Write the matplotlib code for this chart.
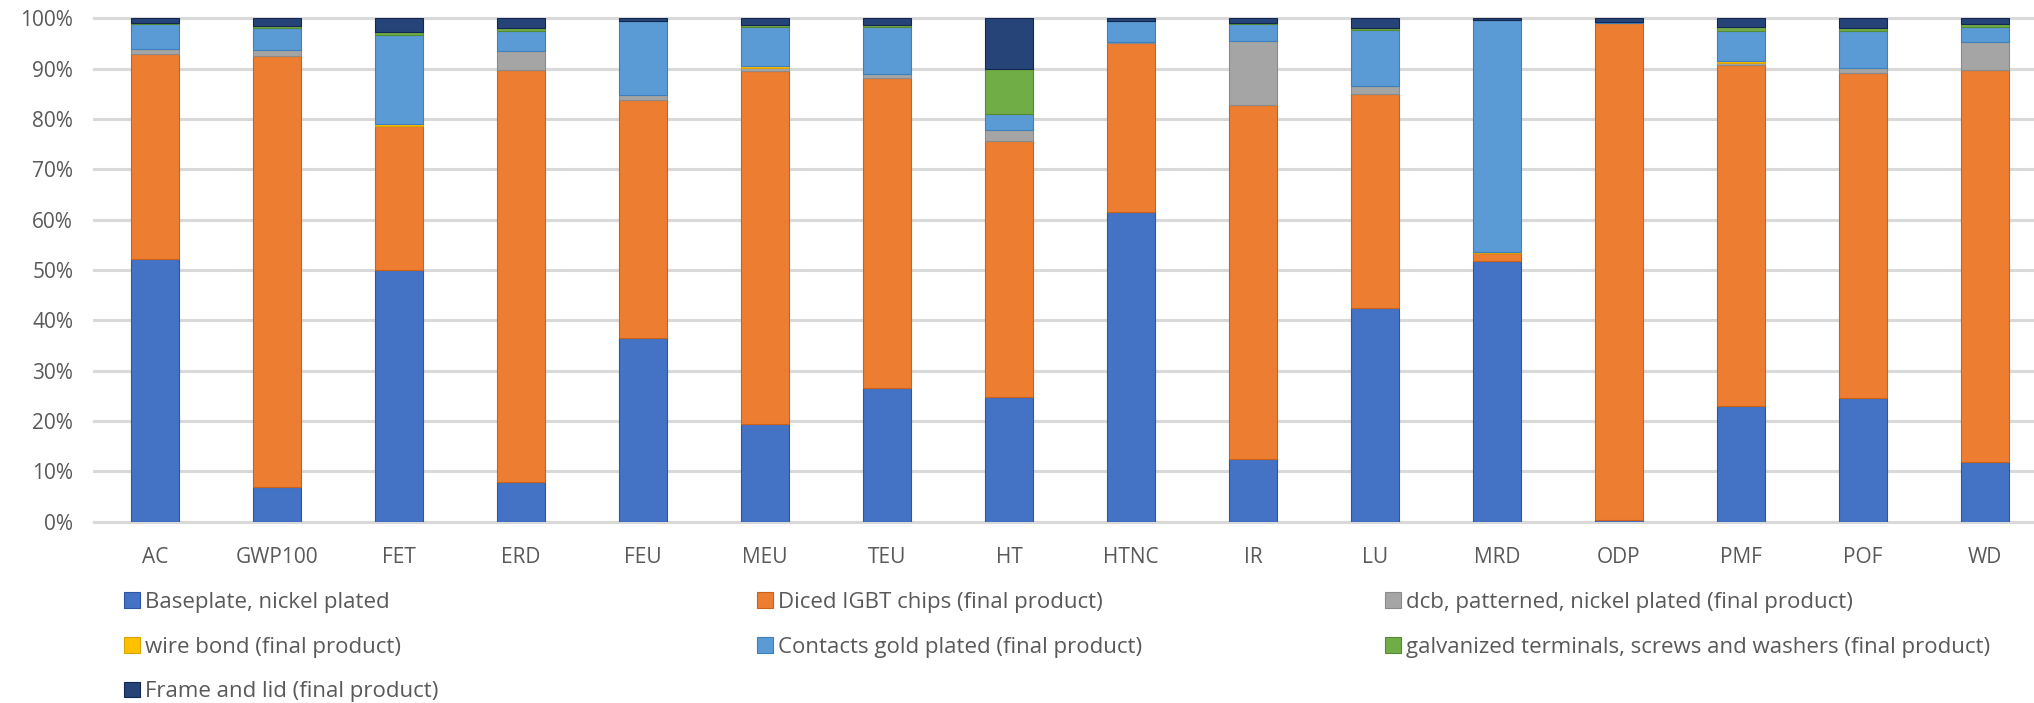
import matplotlib
import numpy as np
from matplotlib import pyplot as plt
from matplotlib.patches import Patch
from matplotlib.ticker import FuncFormatter

matplotlib.use("Agg")
plt.rcParams['font.family'] = ['Open Sans', 'DejaVu Sans']

categories = ['AC', 'GWP100', 'FET', 'ERD', 'FEU', 'MEU', 'TEU', 'HT',
              'HTNC', 'IR', 'LU', 'MRD', 'ODP', 'PMF', 'POF', 'WD']

# shares in %
baseplate = [52.2, 6.9, 50.0, 7.9, 36.4, 19.5, 26.5, 24.7, 61.6, 12.4, 42.5, 51.8, 0.4, 22.9, 24.5, 11.9]
diced_igbt = [40.8, 85.7, 28.7, 81.8, 47.4, 70.0, 61.7, 51.0, 33.4, 70.3, 42.5, 1.5, 98.6, 67.8, 64.7, 77.8]
dcb = [1.0, 1.2, 0.0, 3.9, 1.0, 0.6, 0.8, 2.1, 0.2, 12.7, 1.6, 0.0, 0.0, 0.4, 1.0, 5.5]
wire_bond = [0.0, 0.0, 0.4, 0.0, 0.0, 0.4, 0.0, 0.0, 0.0, 0.0, 0.0, 0.3, 0.0, 0.4, 0.0, 0.0]
contacts = [4.8, 4.2, 17.6, 3.9, 14.6, 7.8, 9.3, 3.1, 4.2, 3.4, 11.1, 46.1, 0.3, 6.0, 7.3, 3.1]
galvanized = [0.2, 0.5, 0.5, 0.5, 0.1, 0.4, 0.4, 9.0, 0.1, 0.2, 0.4, 0.0, 0.0, 0.7, 0.5, 0.5]
frame_lid = [1.0, 1.5, 2.8, 2.0, 0.5, 1.3, 1.3, 10.1, 0.5, 1.0, 1.9, 0.3, 0.7, 1.8, 2.0, 1.2]

series = [
    ('Baseplate, nickel plated', baseplate, '#4472C4', '#2F55A0'),
    ('Diced IGBT chips (final product)', diced_igbt, '#ED7D31', '#C9621C'),
    ('dcb, patterned, nickel plated (final product)', dcb, '#A5A5A5', '#8A8A8A'),
    ('wire bond (final product)', wire_bond, '#FFC000', '#D9A300'),
    ('Contacts gold plated (final product)', contacts, '#5B9BD5', '#3E7FBF'),
    ('galvanized terminals, screws and washers (final product)', galvanized, '#70AD47', '#548A33'),
    ('Frame and lid (final product)', frame_lid, '#264478', '#132750'),
]

W, H = 2034, 703
fig = plt.figure(figsize=(W / 100, H / 100), dpi=100)
ax = fig.add_axes([94 / W, (H - 521.7) / H, 1952 / W, 503.4 / H])

x = np.arange(len(categories))
bottom = np.zeros(len(categories))
handles = []
for name, vals, col, edge in series:
    v = np.array(vals) / 100.0
    ax.bar(x, v, 0.4, bottom=bottom, color=col, edgecolor=edge, linewidth=0.8, zorder=3)
    bottom += v
    handles.append(Patch(facecolor=col, edgecolor=edge, linewidth=0.8, label=name))

ax.set_xlim(-0.5, len(categories) - 0.5)
ax.set_ylim(0, 1)
ax.set_yticks(np.arange(0, 1.01, 0.1))
ax.yaxis.set_major_formatter(FuncFormatter(lambda v, p: f'{int(round(v * 100))}%'))
ax.set_xticks(x)
ax.set_xticklabels(categories)
ax.grid(axis='y', color='#D9D9D9', linewidth=2.2, zorder=0)
for gl in ax.get_ygridlines():
    gl.set_clip_on(False)
for s in ax.spines.values():
    s.set_visible(False)
ax.tick_params(length=0, labelsize=15, colors='#595959')
ax.tick_params(axis='y', pad=15)
ax.tick_params(axis='x', pad=18)

col_x = [124, 757, 1385]
cols = [[0, 3, 6], [1, 4], [2, 5]]
for cx, idx in zip(col_x, cols):
    fig.legend([handles[i] for i in idx], [series[i][0] for i in idx],
               loc='upper left', bbox_to_anchor=(cx / W, 1 - 592 / H),
               frameon=False, fontsize=16, labelcolor='#595959',
               handlelength=0.7, handleheight=0.7, handletextpad=0.25,
               labelspacing=1.06, borderpad=0, borderaxespad=0)

fig.savefig('out.png', dpi=100)
